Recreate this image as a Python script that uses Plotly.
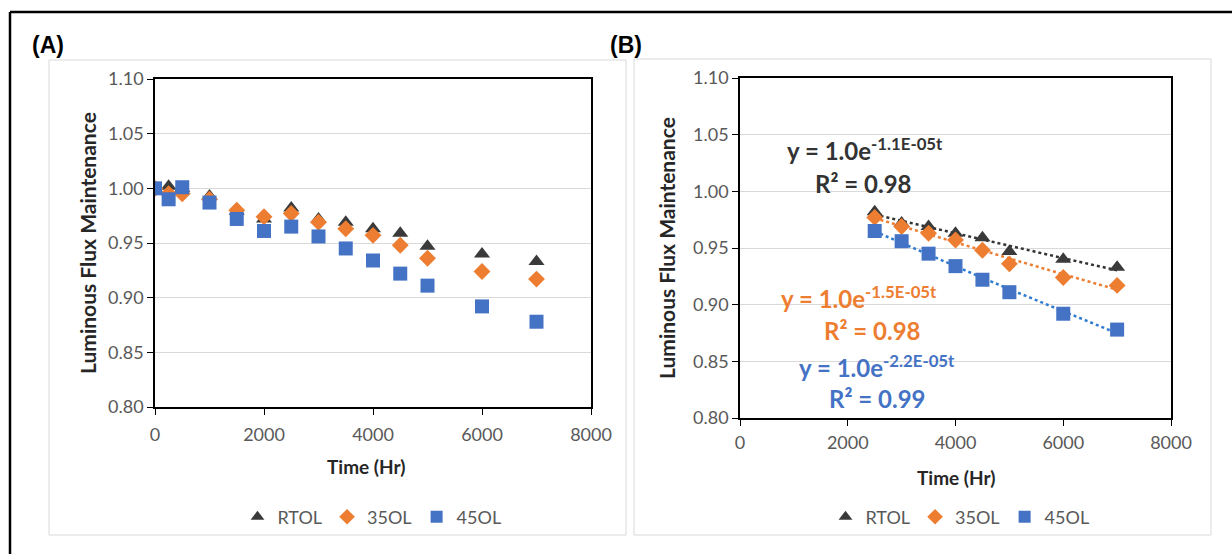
import numpy as np
import plotly.graph_objects as go

W, H = 1232, 554

# ---------------- data ----------------
series_names = ["RTOL", "35OL", "45OL"]
time_a = [0, 250, 500, 1000, 1500, 2000, 2500, 3000, 3500, 4000, 4500, 5000, 6000, 7000]
rtol_a = [1.000, 1.002, 1.000, 0.993, 0.979, 0.972, 0.982, 0.972, 0.969, 0.963, 0.959, 0.947, 0.940, 0.933]
ol35_a = [1.000, 0.995, 0.995, 0.990, 0.980, 0.974, 0.977, 0.969, 0.963, 0.957, 0.948, 0.936, 0.924, 0.917]
ol45_a = [1.000, 0.990, 1.001, 0.987, 0.972, 0.961, 0.965, 0.956, 0.945, 0.934, 0.922, 0.911, 0.892, 0.878]

time_b = [2500, 3000, 3500, 4000, 4500, 5000, 6000, 7000]
rtol_b = [0.982, 0.972, 0.969, 0.963, 0.959, 0.947, 0.940, 0.933]
ol35_b = [0.977, 0.969, 0.963, 0.957, 0.948, 0.936, 0.924, 0.917]
ol45_b = [0.965, 0.956, 0.945, 0.934, 0.922, 0.911, 0.892, 0.878]

eq_texts = ["y = 1.0e<sup>-1.1E-05t</sup>", "y = 1.0e<sup>-1.5E-05t</sup>", "y = 1.0e<sup>-2.2E-05t</sup>"]
r2_texts = ["R² = 0.98", "R² = 0.98", "R² = 0.99"]

x_ticks = [0, 2000, 4000, 6000, 8000]
y_ticks = [0.80, 0.85, 0.90, 0.95, 1.00, 1.05, 1.10]

# ---------------- styles ----------------
colors = ["#3a3a3a", "#ED7D31", "#4472C4"]
trend_colors = ["#333333", "#ED7D31", "#2E7BD0"]
symbols = ["triangle-up", "diamond", "square"]
sizes = [14, 13, 14]
FONT = "Lato, 'Open Sans', sans-serif"


def px_x(p):
    return p / W


def px_y(p):
    return 1 - p / H


fig = go.Figure()

# Panel A scatter
for name, ys, c, s, sz in zip(series_names, [rtol_a, ol35_a, ol45_a], colors, symbols, sizes):
    fig.add_trace(go.Scatter(x=time_a, y=ys, mode="markers", name=name,
                             marker=dict(symbol=s, color=c, size=sz, line=dict(width=0)),
                             xaxis="x", yaxis="y", legend="legend"))

# Panel B trendlines (exponential fit of the data) + markers
for name, ys, c, tc, s, sz in zip(series_names, [rtol_b, ol35_b, ol45_b], colors, trend_colors, symbols, sizes):
    t = np.array(time_b, dtype=float)
    b, lna = np.polyfit(t, np.log(np.array(ys)), 1)
    fit = np.exp(lna) * np.exp(b * t)
    fig.add_trace(go.Scatter(x=time_b, y=fit, mode="lines", showlegend=False,
                             line=dict(color=tc, width=2.5, dash="dot"),
                             xaxis="x2", yaxis="y2", hoverinfo="skip"))
for name, ys, c, s, sz in zip(series_names, [rtol_b, ol35_b, ol45_b], colors, symbols, sizes):
    fig.add_trace(go.Scatter(x=time_b, y=ys, mode="markers", name=name,
                             marker=dict(symbol=s, color=c, size=sz, line=dict(width=0)),
                             xaxis="x2", yaxis="y2", legend="legend2"))

axis_common = dict(showline=True, linecolor="#000000", linewidth=1.5, mirror=True,
                   ticks="outside", ticklen=6, tickcolor="#000000", tickwidth=1.2,
                   tickfont=dict(family=FONT, size=18, color="#595959"), zeroline=False,
                   automargin=False)

legend_common = dict(orientation="h", xanchor="center", yanchor="middle",
                     font=dict(family=FONT, size=18, color="#595959"), bgcolor="rgba(0,0,0,0)",
                     itemwidth=30, tracegroupgap=0, itemsizing="constant")

fig.update_layout(
    template="none",
    width=W, height=H, margin=dict(l=0, r=0, t=0, b=0, pad=0, autoexpand=False),
    paper_bgcolor="white", plot_bgcolor="white",
    font=dict(family=FONT),
    xaxis=dict(domain=[px_x(155), px_x(591)], anchor="y", range=[0, 8000], tickvals=x_ticks,
               showgrid=False, ticklabelstandoff=5, **axis_common),
    yaxis=dict(domain=[px_y(407), px_y(79)], anchor="x", range=[0.80, 1.10], tickvals=y_ticks,
               tickformat=".2f", showgrid=True, gridcolor="#d9d9d9", gridwidth=1, **axis_common),
    xaxis2=dict(domain=[px_x(740), px_x(1171)], anchor="y2", range=[0, 8000], tickvals=x_ticks,
                showgrid=False, ticklabelstandoff=2, **axis_common),
    yaxis2=dict(domain=[px_y(418), px_y(78)], anchor="x2", range=[0.80, 1.10], tickvals=y_ticks,
                tickformat=".2f", showgrid=True, gridcolor="#d9d9d9", gridwidth=1, **axis_common),
    legend=dict(x=px_x(372), y=px_y(517), **legend_common),
    legend2=dict(x=px_x(960), y=px_y(517), **legend_common),
    showlegend=True,
)

shapes = [
    dict(type="rect", xref="paper", yref="paper", x0=px_x(49), x1=px_x(626), y0=px_y(535), y1=px_y(60),
         line=dict(color="#d9d9d9", width=1), layer="below"),
    dict(type="rect", xref="paper", yref="paper", x0=px_x(634), x1=px_x(1211), y0=px_y(535), y1=px_y(59),
         line=dict(color="#d9d9d9", width=1), layer="below"),
    dict(type="line", xref="paper", yref="paper", x0=px_x(10), x1=1, y0=px_y(12), y1=px_y(12),
         line=dict(color="#000000", width=2.5)),
    dict(type="line", xref="paper", yref="paper", x0=px_x(10), x1=px_x(10), y0=0, y1=px_y(12),
         line=dict(color="#000000", width=2.5)),
]
fig.update_layout(shapes=shapes)

ann = []


def text(x, y, t, size, color="#000000", bold=False, angle=0, xanchor="center", family=FONT):
    ann.append(dict(xref="paper", yref="paper", x=px_x(x), y=px_y(y), text=("<b>%s</b>" % t) if bold else t,
                    showarrow=False, font=dict(family=family, size=size, color=color),
                    textangle=angle, xanchor=xanchor, yanchor="middle"))


NARROW = "'Liberation Sans Narrow', 'Liberation Sans', Arial, sans-serif"
text(48, 45, "(A)", 23, "#000000", True, family=NARROW)
text(626, 45, "(B)", 23, "#000000", True, family=NARROW)
text(87, 243, "Luminous Flux Maintenance", 21, "#262626", True, -90)
text(667, 248, "Luminous Flux Maintenance", 21, "#262626", True, -90)
text(366, 466, "Time (Hr)", 19, "#262626", True)
text(956, 477, "Time (Hr)", 19, "#262626", True)

# Trendline equations
eq_pos = [(865, 149, 863, 183), (859, 297, 872, 330), (877, 366, 877, 398)]
eq_cols = ["#333333", "#ED7D31", "#4472C4"]
for (ex, ey, rx, ry), et, rt, c in zip(eq_pos, eq_texts, r2_texts, eq_cols):
    text(ex, ey, et, 24, c, True)
    text(rx, ry, rt, 24, c, True)

fig.update_layout(annotations=ann)

fig.write_html("out.html", config={"displayModeBar": False},
               post_script="document.body.style.margin='0';document.body.style.overflow='hidden';")
